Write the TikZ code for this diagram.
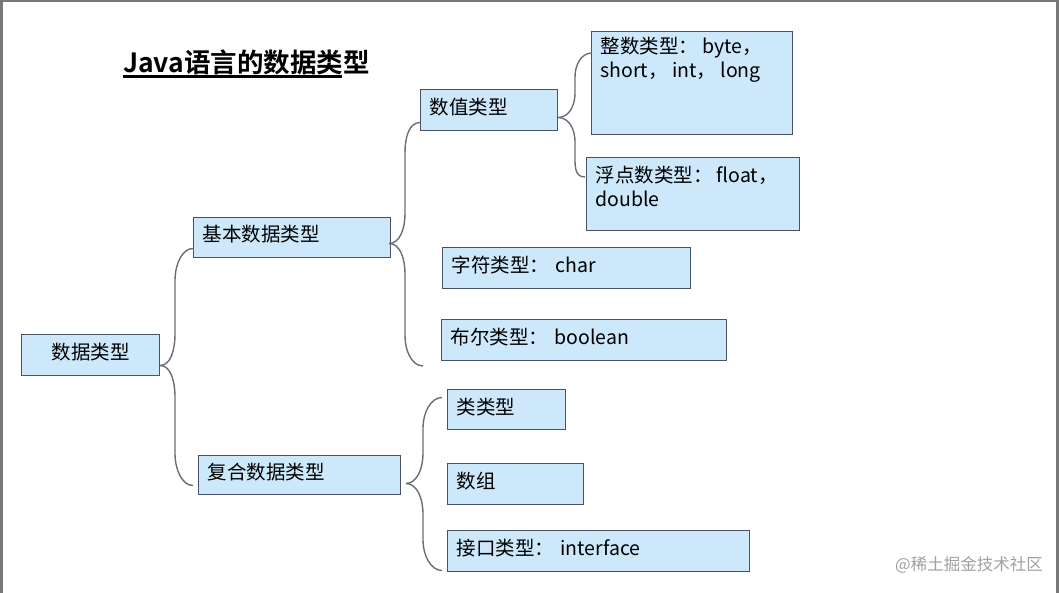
\documentclass[tikz,border=0pt]{standalone}
\usepackage{fontspec}
\setmainfont{Noto Sans CJK SC}[BoldFont={Noto Sans CJK SC Bold}]
\usetikzlibrary{calc}
\definecolor{boxfill}{RGB}{204,232,250}
\definecolor{boxline}{RGB}{72,84,100}
\definecolor{connc}{RGB}{105,110,120}
\definecolor{framec}{RGB}{120,120,120}
\definecolor{markc}{RGB}{160,160,160}
\newcommand\halfbrace[5]{%
  \draw[conn] (#1) .. controls ($(#1)+(11,0)$) and ($(#3 |- #1)+(0,{0.5*(#4)*(#5)})$) ..
    ($(#3 |- #1)+(0,{(#4)*(#5)})$) -- ($(#3 |- #2)+(0,{0-(#4)*(#5)})$) ..
    controls ($(#3 |- #2)+(0,{0-0.5*(#4)*(#5)})$) and ($(#2)+(-11,0)$) .. (#2);}
\begin{document}
\begin{tikzpicture}[x=1pt,y=-1pt,
  box/.style={draw=boxline, fill=boxfill, line width=1pt, inner xsep=9pt, inner ysep=0pt,
    anchor=north west, font=\fontsize{19.5}{24}\selectfont, text height=14pt, text depth=5pt, align=left},
  tallbox/.style={draw=boxline, fill=boxfill, line width=1pt, inner xsep=9pt, inner ysep=6pt,
    anchor=north west, font=\fontsize{19.5}{24}\selectfont},
  conn/.style={draw=connc, line width=1.4pt}]
\useasboundingbox (0,0) rectangle (1059,593);
\fill[framec] (0,0) rectangle (1059,2.5);
\fill[framec] (0,0) rectangle (3,593);
\fill[framec] (1056,0) rectangle (1059,593);

\node[anchor=base west, inner sep=0pt, font=\fontsize{26.5}{30}\selectfont\bfseries] (title) at (123,73) {Java语言的数据类型};
\draw[line width=2.4pt] (123,76.5) -- (342,76.5);

\node[box, minimum width=138pt, minimum height=41pt, text width=120pt, align=center] (root) at (21,334) {数据类型};
\node[box, minimum width=197pt, minimum height=40pt, text width=179pt] (basic) at (193,217) {基本数据类型};
\node[box, minimum width=202pt, minimum height=39pt, text width=184pt] (comp) at (198,455) {复合数据类型};
\node[box, minimum width=137pt, minimum height=41pt, text width=119pt] (num) at (420,89) {数值类型};
\node[tallbox] (int) at (591,31) {\parbox[c][91pt][t]{183pt}{整数类型： byte，\\short， int， long}};
\node[tallbox] (float) at (586,157) {\parbox[c][61pt][t]{195pt}{\vspace*{3pt}浮点数类型： float，\\double}};
\node[box, minimum width=248pt, minimum height=41pt, text width=230pt] (char) at (442,247) {字符类型： char};
\node[box, minimum width=285pt, minimum height=41pt, text width=267pt] (bool) at (441,319) {布尔类型： boolean};
\node[box, minimum width=118pt, minimum height=40pt, text width=100pt] (cls) at (447,389) {类类型};
\node[box, minimum width=136pt, minimum height=41pt, text width=118pt] (arr) at (447,463) {数组};
\node[box, minimum width=302pt, minimum height=41pt, text width=284pt] (intf) at (447,530) {接口类型： interface};

\node[anchor=base east, inner sep=0pt, text=markc, font=\fontsize{16.5}{20}\selectfont] (mark) at (1043,570) {@稀土掘金技术社区};

% brace from root
\coordinate (tA) at ($(root.east)+(0,10.5)$);
\coordinate (sA) at (175,0);
\coordinate (eA1) at ($(basic.west)+(0,11)$);
\coordinate (eA2) at ($(comp.west)+(-5,10.5)$);
\halfbrace{tA}{eA1}{sA}{-1}{32}
\halfbrace{tA}{eA2}{sA}{1}{32}
% brace from basic
\coordinate (tB) at ($(basic.east)+(-2,6)$);
\coordinate (sB) at (405,0);
\coordinate (eB1) at ($(num.west)+(0,12.5)$);
\coordinate (eB2) at ($(bool.south west)+(-18,5)$);
\halfbrace{tB}{eB1}{sB}{-1}{30}
\halfbrace{tB}{eB2}{sB}{1}{30}
% brace from num
\coordinate (tC) at ($(num.east)+(0,7.5)$);
\coordinate (sC) at (575,0);
\coordinate (eC1) at ($(int.north west)+(1,22)$);
\coordinate (eC2) at ($(float.north west)+(-1,20)$);
\halfbrace{tC}{eC1}{sC}{-1}{24}
\halfbrace{tC}{eC2}{sC}{1}{24}
% brace from comp
\coordinate (tD) at ($(comp.east)+(5,8.5)$);
\coordinate (sD) at (423,0);
\coordinate (eD1) at ($(cls.west)+(-5,-12)$);
\coordinate (eD2) at ($(intf.west)+(-5,19.5)$);
\halfbrace{tD}{eD1}{sD}{-1}{30}
\halfbrace{tD}{eD2}{sD}{1}{30}
\end{tikzpicture}
\end{document}
